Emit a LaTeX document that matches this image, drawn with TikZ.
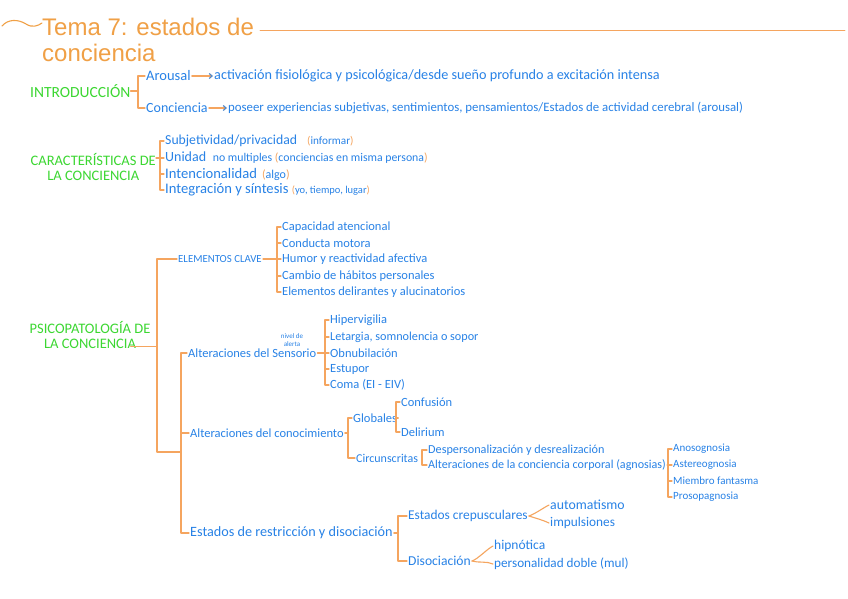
\documentclass[tikz,border=0pt]{standalone}
\usepackage{fontspec}
\setmainfont{Carlito}
\newfontfamily\titlefont{Liberation Sans}
\usetikzlibrary{arrows.meta}
\definecolor{lineor}{RGB}{245,165,95}
\definecolor{titleor}{RGB}{240,160,70}
\definecolor{bluetx}{RGB}{40,130,230}
\definecolor{greentx}{RGB}{60,215,50}
\newcommand{\orp}[1]{{\color{lineor}#1}}
\newcommand{\fsz}[1]{\fontsize{#1}{#1}\selectfont}
\begin{document}
\begin{tikzpicture}[x=1pt,y=-1pt,
  ln/.style={draw=lineor, line width=1.1pt, line cap=round, line join=round},
  arr/.style={ln, -{Straight Barb[length=3pt,width=5pt,color=bluetx!80!lineor]}},
  ttl/.style={text=titleor, font=\titlefont\fontsize{24}{26}\selectfont, inner sep=0pt},
  bt/.style={text=bluetx, font=\fsz{13}, inner xsep=1pt, inner ysep=0pt, anchor=west},
  sz/.style={font=\fsz{#1}},
  gt/.style={text=greentx, font=\fontsize{14.5}{15}\selectfont, inner sep=0pt, align=center}]
\fill[white] (0,0) rectangle (848,599);
\useasboundingbox (0,0) rectangle (848,599);

% title
\node[ttl, anchor=base west] (t1) at (42,36) {Tema 7: estados de};
\node[ttl, anchor=base west] (t2) at (42,62) {conciencia};
\coordinate (tend) at (845,30);
\draw[ln, line width=0.9pt] (t1.east |- tend) ++(6,0) -- (tend);
\draw[ln, draw=titleor] (2,26) .. controls (8,19) and (18,19) .. (26,24) .. controls (32,28) and (38,26) .. (42,23);

% introduccion
\node[gt, anchor=west, font=\fsz{15.5}] (intro) at (30,91) {INTRODUCCIÓN};
\node[bt, sz=14.5] (arousal) at (145,76) {Arousal};
\node[bt, sz=14.2] (act) at (213,76) {activación fisiológica y psicológica/desde sueño profundo a excitación intensa};
\node[bt, sz=14] (conc) at (145,108) {Conciencia};
\node[bt, sz=12.8] (poseer) at (227,108) {poseer experiencias subjetivas, sentimientos, pensamientos/Estados de actividad cerebral (arousal)};
\path (arousal.west) ++(-7,0) coordinate (b1);
\draw[ln] (arousal.west) -- (b1) |- (conc.west);
\draw[ln] (intro.east) -- (intro.east -| b1);
\draw[arr] (arousal.east) -- (act.west);
\draw[arr] (conc.east) -- (poseer.west);

% caracteristicas
\node[gt, anchor=east] (carac) at (156,167) {CARACTERÍSTICAS DE\\LA CONCIENCIA};
\node[bt, sz=13.75] (subj) at (164,141) {Subjetividad/privacidad\hspace{10pt}{\fsz{11.2}\orp{(}informar\orp{)}}};
\node[bt, sz=14] (unidad) at (164,158) {Unidad\hspace{4pt}{\fsz{11.8} no multiples \orp{(}conciencias en misma persona\orp{)}}};
\node[bt, sz=14.6] (intenc) at (164,174) {Intencionalidad\hspace{5pt}{\fsz{12}\orp{(}algo\orp{)}}};
\node[bt, sz=14.6] (integ) at (164,190) {Integración y síntesis {\fsz{10.5}\orp{(}yo, tiempo, lugar\orp{)}}};
\path (subj.west) ++(-4,0) coordinate (b2);
\draw[ln] (subj.west) -- (b2) |- (integ.west);
\draw[ln] (carac.north east |- unidad.west) -- (unidad.west);
\draw[ln] (b2 |- intenc.west) -- (intenc.west);

% psicopatologia
\node[gt] (psico) at (90,335) {PSICOPATOLOGÍA DE\\LA CONCIENCIA};
\node[bt, sz=10.8] (clave) at (177,259) {ELEMENTOS CLAVE};
\path (clave.west) ++(-20,0) coordinate (tk);
\coordinate (tkb) at (157,452);
\path (psico.south east) ++(-20,-2) coordinate (ps);
\draw[ln] (ps) -- (ps -| tk);
\node[bt, sz=12.5] (cap) at (281,227) {Capacidad atencional};
\node[bt, sz=12.5] (cond) at (281,243) {Conducta motora};
\node[bt, sz=12.5] (humor) at (281,259) {Humor y reactividad afectiva};
\node[bt, sz=12.5] (cambio) at (281,276) {Cambio de hábitos personales};
\node[bt, sz=12.5] (elem) at (281,292) {Elementos delirantes y alucinatorios};
\path (cap.west) ++(-4,0) coordinate (b3);
\draw[ln] (cap.west) -- (b3) |- (elem.west);
\draw[ln] (b3 |- cond.west) -- (cond.west);
\draw[ln] (b3 |- cambio.west) -- (cambio.west);
\draw[ln] (clave.east) -- (humor.west);

% sensorio
\node[bt, sz=12.5] (sens) at (187,353) {Alteraciones del Sensorio};
\node[text=bluetx, font=\fontsize{7}{7.2}\selectfont, align=center, inner sep=0pt] (alerta) at (292,340) {nivel de\\alerta};
\path (sens.west) ++(-6,0) coordinate (sp2);
\draw[ln] (clave.west) -- (tk) -- (tkb) -- (tkb -| sp2);
\node[bt, sz=12.5] (hiper) at (329,320) {Hipervigilia};
\node[bt, sz=12.2] (letar) at (329,337) {Letargia, somnolencia o sopor};
\node[bt, sz=12.5] (obnub) at (329,353) {Obnubilación};
\node[bt, sz=12.5] (estup) at (329,369) {Estupor};
\node[bt, sz=12.5] (coma) at (329,385) {Coma (EI - EIV)};
\path (hiper.west) ++(-4,0) coordinate (b4);
\draw[ln] (hiper.west) -- (b4) |- (coma.west);
\draw[ln] (b4 |- letar.west) -- (letar.west);
\draw[ln] (b4 |- estup.west) -- (estup.west);
\draw[ln] (sens.east) -- (obnub.west);

% conocimiento
\node[bt, sz=12.5] (conoc) at (189,433) {Alteraciones del conocimiento};
\node[bt, sz=12.5] (glob) at (352,418) {Globales};
\node[bt, sz=12] (circ) at (355,458) {Circunscritas};
\path (glob.west) ++(-4,0) coordinate (b5);
\draw[ln] (glob.west) -- (b5) |- (circ.west);
\draw[ln] (conoc.east) -- (b5 |- conoc.west);
\node[bt, sz=12.5] (conf) at (400,402) {Confusión};
\node[bt, sz=12.5] (deli) at (400,432) {Delirium};
\path (conf.west) ++(-4,0) coordinate (b6);
\draw[ln] (conf.west) -- (b6) |- (deli.west);
\draw[ln] (glob.east) -- (b6 |- glob.west);
\node[bt, sz=12.2] (desp) at (427,450) {Despersonalización y desrealización};
\node[bt, sz=12.1] (acorp) at (427,465) {Alteraciones de la conciencia corporal (agnosias)};
\path (desp.west) ++(-5,0) coordinate (b7);
\draw[ln] (desp.west) -- (b7) |- (acorp.west);
\node[bt, sz=11] (anos) at (672,449) {Anosognosia};
\node[bt, sz=11] (aster) at (672,465) {Astereognosia};
\node[bt, sz=11] (miem) at (672,481) {Miembro fantasma};
\node[bt, sz=11] (pros) at (672,497) {Prosopagnosia};
\path (anos.west) ++(-4,0) coordinate (b8);
\draw[ln] (anos.west) -- (b8) |- (pros.west);
\draw[ln] (b8 |- miem.west) -- (miem.west);
\draw[ln] (acorp.east) -- (aster.west);

% estados
\node[bt, sz=14.2] (estados) at (189,533) {Estados de restricción y disociación};
\node[bt, sz=13.4] (crep) at (407,516) {Estados crepusculares};
\node[bt, sz=13.6] (disoc) at (407,561) {Disociación};
\path (crep.west) ++(-9,0) coordinate (b9);
\draw[ln] (crep.west) -- (b9) |- (disoc.west);
\draw[ln] (estados.east) -- (b9 |- estados.west);
\draw[ln] (sp2 |- conoc.west) -- (conoc.west);
\draw[ln] (sens.west) -- (sp2) |- (estados.west);
\node[bt, sz=13.8] (auto) at (549,505) {automatismo};
\node[bt, sz=13.3] (impul) at (549,523) {impulsiones};
\node[bt, sz=13.5] (hipn) at (493,546) {hipnótica};
\node[bt, sz=13.2] (perso) at (493,564) {personalidad doble (mul)};
\draw[ln] (crep.east) .. controls +(6,-2) and +(-6,3) .. (auto.west);
\draw[ln] (crep.east) .. controls +(6,2) and +(-6,-3) .. (impul.west);
\draw[ln] (disoc.east) .. controls +(6,-2) and +(-6,3) .. (hipn.west);
\draw[ln] (disoc.east) .. controls +(6,2) and +(-6,-3) .. (perso.west);
\end{tikzpicture}
\end{document}
